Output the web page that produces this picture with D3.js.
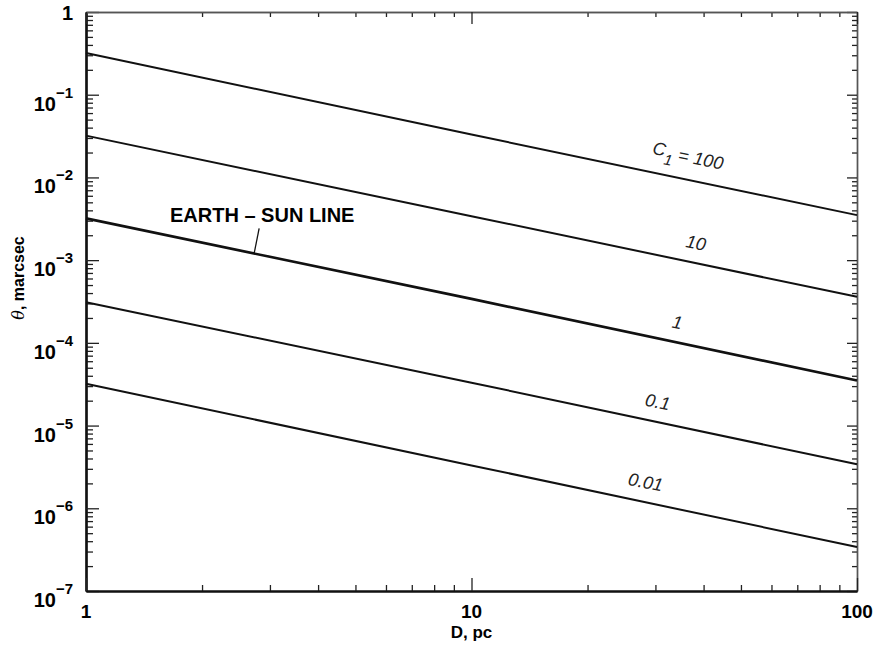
<!DOCTYPE html>
<html>
<head>
<meta charset="utf-8">
<script src="https://cdn.jsdelivr.net/npm/d3@7"></script>
<style>
  body { margin: 0; background: #fff; }
  svg { display: block; font-family: "Liberation Sans", Arial, sans-serif; }
</style>
</head>
<body>
<svg width="885" height="647"></svg>
<script>
// Data
var distances = [1, 10, 100];                 // D, pc
var c1Values = [100, 10, 1, 0.1, 0.01];
var c1Labels = ["100", "10", "1", "0.1", "0.01"];
var theta100 = [0.32, 0.033, 0.0035];
var theta10 = [0.032, 0.0034, 0.00036];
var theta1 = [0.0032, 0.00034, 0.000035];
var theta01 = [0.00031, 0.000033, 0.0000034];
var theta001 = [0.000032, 0.0000033, 0.00000034];
var thetaSeries = [theta100, theta10, theta1, theta01, theta001];

var xMajor = [1, 10, 100];
var xTickLabels = ["1", "10", "100"];
var yMajor = [1, 1e-1, 1e-2, 1e-3, 1e-4, 1e-5, 1e-6, 1e-7];
var yExponents = ["", "\u22121", "\u22122", "\u22123", "\u22124", "\u22125", "\u22126", "\u22127"];

var svg = d3.select("svg"),
    margin = {top: 12, right: 28, bottom: 56, left: 86},
    width = +svg.attr("width") - margin.left - margin.right,
    height = +svg.attr("height") - margin.top - margin.bottom;

var g = svg.append("g").attr("transform", "translate(" + margin.left + "," + margin.top + ")");

var x = d3.scaleLog().domain([1, 100]).range([0, width]);
var y = d3.scaleLog().domain([1e-7, 1]).range([height, 0]);

var isDecade = function (v) { return Math.abs(Math.log10(v) - Math.round(Math.log10(v))) < 1e-9; };
var xMinor = x.ticks().filter(function (v) { return !isDecade(v); });
var yMinor = y.ticks().filter(function (v) { return !isDecade(v); });

// axes: ticks point inward on all four sides
function addAxis(axisFn, scale, values, size, transform, cls) {
  return g.append("g")
    .attr("class", cls)
    .attr("transform", transform)
    .call(axisFn(scale).tickValues(values).tickSize(-size).tickSizeOuter(0).tickFormat(""));
}
addAxis(d3.axisLeft, y, yMinor, 7, null, "ax left");
addAxis(d3.axisLeft, y, yMajor, 13, null, "ax left");
addAxis(d3.axisRight, y, yMinor, 5, "translate(" + width + ",0)", "ax right");
addAxis(d3.axisRight, y, yMajor, 10, "translate(" + width + ",0)", "ax right");
addAxis(d3.axisBottom, x, xMinor, 6, "translate(0," + height + ")", "ax bottom");
addAxis(d3.axisBottom, x, xMajor, 13, "translate(0," + height + ")", "ax bottom");
addAxis(d3.axisTop, x, xMinor, 5, null, "ax top");
addAxis(d3.axisTop, x, xMajor, 12, null, "ax top");

g.selectAll(".ax line").attr("stroke", "#222").attr("stroke-width", 1.3);
g.selectAll(".ax path.domain").attr("stroke", "#111");
g.selectAll(".left path.domain, .bottom path.domain").attr("stroke-width", 2.2);
g.selectAll(".top path.domain, .right path.domain").attr("stroke-width", 1.4).attr("stroke", "#555");

// tick labels
g.selectAll(".xlab")
  .data(xMajor)
  .enter().append("text")
  .attr("x", function (d) { return x(d); })
  .attr("y", height + 27)
  .attr("text-anchor", "middle")
  .attr("font-size", 19)
  .attr("font-weight", "bold")
  .text(function (d, i) { return xTickLabels[i]; });

var ylab = g.selectAll(".ylab")
  .data(yMajor)
  .enter().append("text")
  .attr("x", -13)
  .attr("y", function (d, i) { return i === 0 ? y(d) + 8 : y(d) + 16; })
  .attr("text-anchor", "end")
  .attr("font-size", 20)
  .attr("font-weight", "bold")
  .text(function (d, i) { return i === 0 ? "1" : "10"; });
ylab.filter(function (d, i) { return i > 0; })
  .append("tspan")
  .attr("dy", -13)
  .attr("font-size", 15)
  .text(function (d) { return yExponents[yMajor.indexOf(d)]; });

// axis titles
g.append("text")
  .attr("x", width / 2)
  .attr("y", height + 47)
  .attr("text-anchor", "middle")
  .attr("font-size", 17)
  .attr("font-weight", "bold")
  .text("D, pc");

var yt = svg.append("text")
  .attr("transform", "translate(24,278) rotate(-90)")
  .attr("text-anchor", "middle")
  .attr("font-size", 16)
  .attr("font-weight", "bold");
yt.append("tspan").attr("font-style", "italic").attr("font-weight", "normal")
  .attr("font-family", "'DejaVu Serif', serif").text("\u03b8");
yt.append("tspan").text(", marcsec");

// the lines
var line = d3.line()
  .x(function (d, i) { return x(distances[i]); })
  .y(function (d) { return y(d); });

g.selectAll(".series")
  .data(thetaSeries)
  .enter().append("path")
  .attr("fill", "none")
  .attr("stroke", "#111")
  .attr("stroke-width", function (d, i) { return c1Values[i] === 1 ? 2.6 : 2; })
  .attr("d", line);

// pixel y of a series at distance d (linear in log-log)
function yAt(series, d) {
  var k = d < distances[1] ? 0 : 1;
  var t = (Math.log10(d) - Math.log10(distances[k])) / (Math.log10(distances[k + 1]) - Math.log10(distances[k]));
  var v = Math.log10(series[k]) + t * (Math.log10(series[k + 1]) - Math.log10(series[k]));
  return y(Math.pow(10, v));
}

// curve labels, tilted along the lines
var labelAt = [36.5, 38.2, 34.2, 30.4, 28.3];
var angle = Math.atan((y(1e-2) - y(1e-1)) / (x(10) - x(1))) * 180 / Math.PI - 1;

thetaSeries.forEach(function (s, i) {
  var t = g.append("text")
    .attr("transform", "translate(" + x(labelAt[i]) + "," + (yAt(s, labelAt[i]) - (i === 0 ? 25 : 20)) + ") rotate(" + angle + ")")
    .attr("text-anchor", "middle")
    .attr("y", 6)
    .attr("font-size", 18)
    .attr("font-style", "italic")
    .attr("fill", "#222");
  if (i === 0) {
    t.append("tspan").text("C");
    t.append("tspan").attr("dy", 8).attr("font-size", 15).text("1");
    t.append("tspan").attr("dy", -6).text(" = " + c1Labels[i]);
  } else {
    t.text(c1Labels[i]);
  }
});

// Earth-Sun line callout
var esD = 2.73;
g.append("line")
  .attr("x1", x(esD)).attr("y1", yAt(theta1, esD))
  .attr("x2", x(esD) + 5).attr("y2", yAt(theta1, esD) - 25)
  .attr("stroke", "#111").attr("stroke-width", 1.3);
g.append("text")
  .attr("x", 170 - margin.left)
  .attr("y", 222 - margin.top)
  .attr("font-size", 20)
  .attr("font-weight", "bold")
  .text("EARTH \u2013 SUN LINE");
</script>
</body>
</html>
